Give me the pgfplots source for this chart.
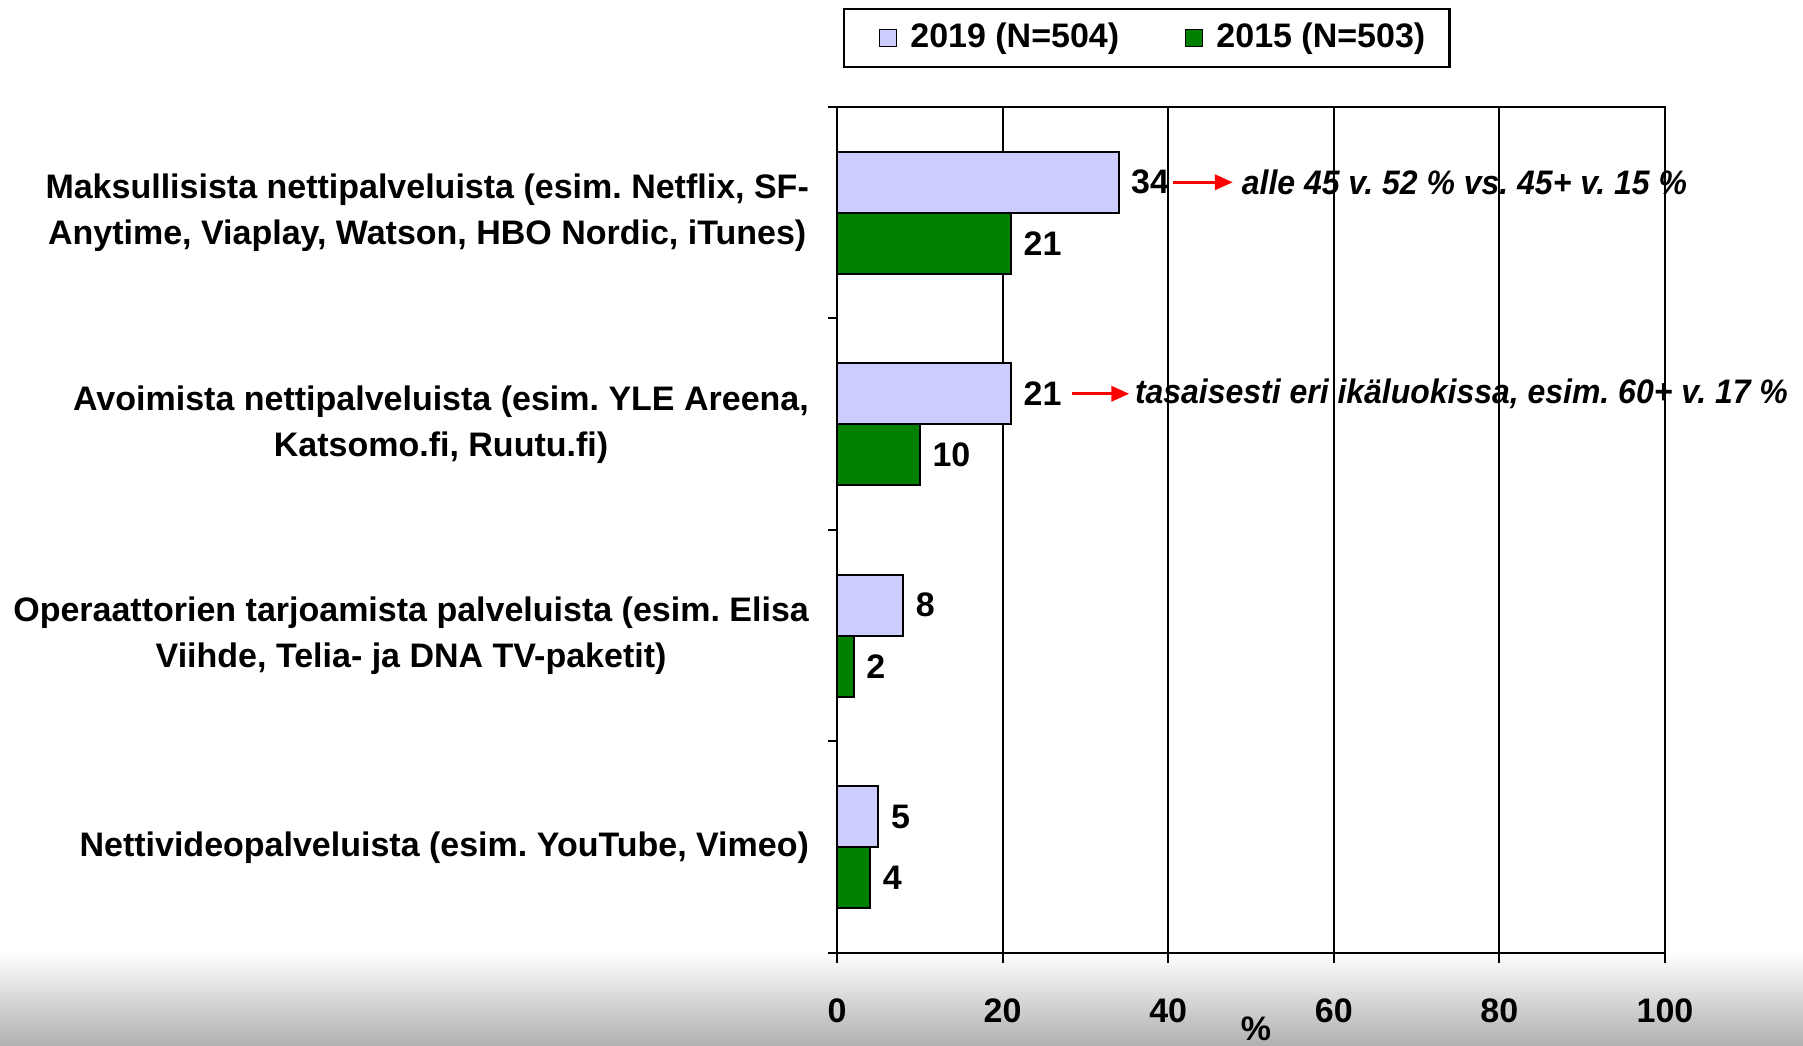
\documentclass[border=0pt]{standalone}
\usepackage{fontspec}
\setmainfont{Liberation Sans}
\usepackage{pgfplots}
\pgfplotsset{compat=1.18}
\usetikzlibrary{arrows.meta}

\definecolor{lav}{RGB}{204,204,255}
\definecolor{grn}{RGB}{0,128,0}
\newcommand{\lbl}{\fontsize{8.5}{11.5}\selectfont\bfseries}
\frenchspacing

\begin{document}
\begin{tikzpicture}
% grey band at the bottom of the slide
\shade[top color=white, bottom color=black!31] (0,0) rectangle (450.75pt,23.5pt);
\begin{axis}[
    at={(209.25pt,23.25pt)}, anchor=south west,
    scale only axis, width=207pt, height=211.5pt,
    xbar, bar width=15.25pt,
    xmin=0, xmax=100, ymin=-0.5, ymax=3.5,
    xtick={0,20,...,100}, xmajorgrids,
    major grid style={black, line width=0.5pt},
    ytick={0,1,2,3},
    yticklabels={
        {Nettivideopalveluista (esim. YouTube, Vimeo)},
        {Operaattorien tarjoamista palveluista (esim. Elisa\\Viihde, Telia- ja DNA TV-paketit)},
        {Avoimista nettipalveluista (esim. YLE Areena,\\Katsomo.fi, Ruutu.fi)},
        {Maksullisista nettipalveluista (esim. Netflix, SF-\\Anytime, Viaplay, Watson, HBO Nordic, iTunes)}},
    minor ytick={-0.5,0.5,1.5,2.5,3.5},
    tick align=outside, xtick pos=bottom, ytick pos=left,
    major tick length=2.5pt, minor tick length=2.3pt,
    every major y tick/.append style={draw=none},
    tick style={black, line width=0.5pt},
    axis line style={line width=0.6pt},
    /pgf/number format/assume math mode=true,
    ticklabel style={font=\lbl},
    yticklabel style={align=center, xshift=-1.0pt},
    xticklabel style={yshift=-5.4pt},
    xlabel={\%},
    xlabel style={at={(0.506,0)}, anchor=center, yshift=-19pt, font=\lbl},
    nodes near coords,
    nodes near coords style={font=\lbl, anchor=west, xshift=-0.4pt},
    legend columns=2,
    legend style={at={(0.374,1)}, anchor=center, yshift=17.25pt,
        draw=black, line width=0.6pt, font=\lbl,
        inner xsep=4pt, inner ysep=1.4pt,
        /tikz/every even column/.append style={column sep=9.7pt}},
    legend image code/.code={
        \path (-4.6pt,0) (5.5pt,0);
        \draw[#1, draw=black, line width=0.4pt] (0pt,-2.15pt) rectangle (4.3pt,2.15pt);},
    clip=false,
]
\addplot[fill=lav, draw=black, line width=0.5pt, bar shift=7.625pt]
    coordinates {(34,3) (21,2) (8,1) (5,0)};
\addplot[fill=grn, draw=black, line width=0.5pt, bar shift=-7.625pt]
    coordinates {(21,3) (10,2) (2,1) (4,0)};
\legend{2019 (N=504), 2015 (N=503)}

\draw[red, line width=0.8pt, -{Triangle[length=4.5pt,width=3.8pt]}]
    (axis cs:40.6,3.144) -- (axis cs:47.8,3.144);
\node[anchor=west, inner sep=0pt, font=\lbl\itshape] at (axis cs:48.8,3.144)
    {\scalebox{0.94}[1]{alle 45 v. 52 \% vs. 45+ v. 15 \%}};
\draw[red, line width=0.8pt, -{Triangle[length=4.5pt,width=3.8pt]}]
    (axis cs:28.4,2.144) -- (axis cs:35.3,2.144);
\node[anchor=west, inner sep=0pt, font=\lbl\itshape] at (axis cs:35.9,2.144)
    {\scalebox{0.94}[1]{tasaisesti eri ikäluokissa, esim. 60+ v. 17 \%}};
\end{axis}
\pgfresetboundingbox
\path[use as bounding box] (0,0) rectangle (450.75pt,261.5pt);
\end{tikzpicture}
\end{document}
